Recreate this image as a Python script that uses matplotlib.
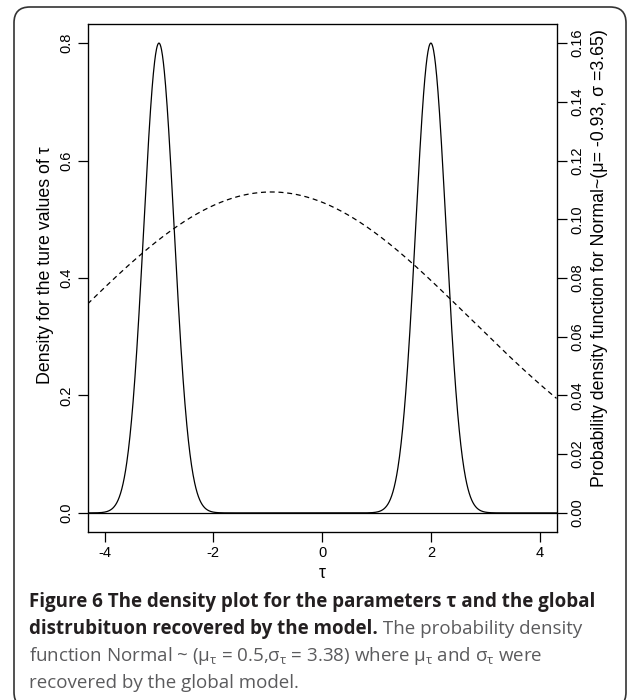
import numpy as np
import matplotlib.pyplot as plt
from matplotlib.patches import FancyBboxPatch

# values
peak_centres = [-3.0, 2.0]      # tau values where the true densities sit
peak_height = 0.8
peak_sd = 0.28
global_mu = -0.93
global_sd = 3.65
left_ticks = [0.0, 0.2, 0.4, 0.6, 0.8]
left_labels = ["0.0", "0.2", "0.4", "0.6", "0.8"]
right_ticks = [0.00, 0.02, 0.04, 0.06, 0.08, 0.10, 0.12, 0.14, 0.16]
right_labels = ["0.00", "0.02", "0.04", "0.06", "0.08", "0.10", "0.12", "0.14", "0.16"]
x_ticks = [-4, -2, 0, 2, 4]

plt.rcParams['font.family'] = ['Liberation Sans', 'DejaVu Sans']
plt.rcParams['mathtext.fontset'] = 'custom'
plt.rcParams['mathtext.rm'] = 'Open Sans'
plt.rcParams['mathtext.it'] = 'Open Sans'

W, H = 634, 700
fig = plt.figure(figsize=(W / 100, H / 100), dpi=100)
ax = fig.add_axes([87.7 / W, 1 - 531.7 / H, (556.5 - 87.7) / W, (531.7 - 24.3) / H])

tau = np.linspace(-4.31, 4.31, 1500)
dens = np.zeros_like(tau)
for c in peak_centres:
    dens = np.maximum(dens, peak_height * np.exp(-0.5 * ((tau - c) / peak_sd) ** 2))

ax.plot(tau, dens, color='black', lw=0.9)
ax.axhline(0, color='black', lw=0.9)
ax.set_xlim(-4.31, 4.31)
ax.set_ylim(-0.032, 0.832)

fs = 10.5
lab_fs = 12.8
ax.set_xticks(x_ticks)
ax.set_xticklabels([str(v) for v in x_ticks], fontsize=fs)
ax.set_yticks(left_ticks)
ax.set_yticklabels(left_labels, fontsize=fs, rotation=90, va='center')
ax.tick_params(length=7, width=0.9, pad=3.3, direction='out')
for s in ax.spines.values():
    s.set_linewidth(0.9)

ax2 = ax.twinx()
pdf = np.exp(-0.5 * ((tau - global_mu) / global_sd) ** 2) / (global_sd * np.sqrt(2 * np.pi))
ax2.plot(tau, pdf, color='black', lw=0.9, dashes=(4, 3))
ax2.set_ylim(-0.032 / 5, 0.832 / 5)
ax2.set_yticks(right_ticks)
ax2.set_yticklabels(right_labels, fontsize=fs, rotation=90, va='center')
ax2.tick_params(length=7, width=0.9, pad=3.3, direction='out')

# axis titles placed where they sit in the figure
fig.text(322 / W, 1 - 573 / H, "τ", fontsize=lab_fs, ha='center', va='center')
fig.text(46 / W, 1 - 265 / H, "Density for the ture values of τ", fontsize=lab_fs,
         rotation=90, ha='center', va='center')
fig.text(600 / W, 1 - 258 / H,
         "Probability density function for Normal~(μ= -0.93, σ =3.65)",
         fontsize=lab_fs, rotation=90, ha='center', va='center')

# rounded frame round the figure
frame = FancyBboxPatch((14 / W, -8 / H), (626 - 14) / W, (700 - 7 + 8) / H,
                       boxstyle="round,pad=0,rounding_size=0.025",
                       transform=fig.transFigure, fill=False, lw=1.2,
                       edgecolor='#333333', mutation_aspect=W / H)
fig.add_artist(frame)

# caption
cap_fs = 13.5
dark = '#231f20'
grey = '#5b5b5d'
x0 = 29 / W
rend = fig.canvas.get_renderer()
fig.text(x0, 1 - 602 / H, "Figure 6 The density plot for the parameters τ and the global",
         fontsize=cap_fs, fontweight='bold', color=dark, family='Open Sans', va='center')
t = fig.text(x0, 1 - 629 / H, "distrubituon recovered by the model.",
             fontsize=cap_fs, fontweight='bold', color=dark, family='Open Sans', va='center')
bb = t.get_window_extent(rend)
fig.text(bb.x1 / W, 1 - 629 / H, " The probability density",
         fontsize=cap_fs, color=grey, family='Open Sans', va='center')
fig.text(x0, 1 - 656 / H,
         r"function Normal ~ ($\mu_\tau$ = 0.5,$\sigma_\tau$ = 3.38) where $\mu_\tau$ and $\sigma_\tau$ were",
         fontsize=cap_fs, color=grey, family='Open Sans', va='center')
fig.text(x0, 1 - 683 / H, "recovered by the global model.",
         fontsize=cap_fs, color=grey, family='Open Sans', va='center')

fig.savefig("out.png", dpi=100)
